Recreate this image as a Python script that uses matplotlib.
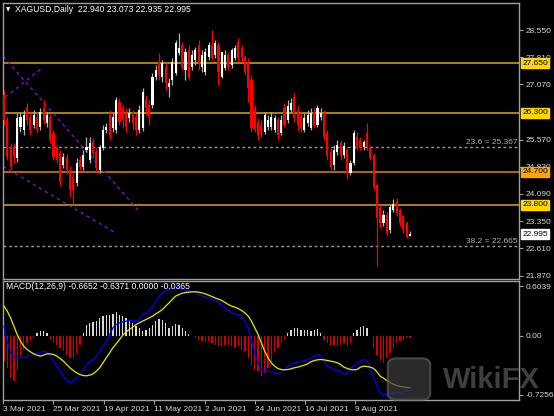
import numpy as np
import matplotlib
matplotlib.use('Agg')
import matplotlib.pyplot as plt
from matplotlib.transforms import blended_transform_factory
from matplotlib.patches import FancyBboxPatch

plt.rcParams['font.family'] = ['Liberation Sans', 'DejaVu Sans']

# Daily XAGUSD candles
opens = [26.78, 26.10, 25.36, 25.36, 25.06, 25.91, 25.82, 26.45, 26.18, 25.96,
         26.18, 25.91, 26.42, 26.01, 26.18, 25.74, 25.36, 25.20, 24.87, 25.09,
         24.73, 24.54, 24.38, 25.01, 24.82, 25.28, 25.01, 25.50, 25.22, 24.73,
         25.33, 25.82, 26.23, 25.88, 25.82, 26.59, 26.42, 26.29, 26.15, 26.29,
         26.18, 25.82, 25.88, 26.64, 26.51, 26.51, 27.27, 27.68, 27.27, 27.54,
         27.00, 27.19, 27.38, 27.92, 28.14, 27.46, 28.00, 27.54, 27.73, 28.14,
         27.54, 27.40, 27.81, 28.14, 27.87, 28.14, 27.27, 27.51, 27.87, 27.60,
         27.79, 28.22, 28.06, 27.81, 27.68, 27.19, 26.42, 26.04, 25.96, 25.77,
         25.91, 25.91, 25.82, 26.10, 25.74, 26.42, 26.10, 26.37, 26.72, 26.37,
         26.23, 25.82, 26.01, 25.88, 26.31, 25.96, 26.18, 26.29, 25.74, 25.22,
         24.87, 25.22, 25.47, 25.14, 25.28, 24.65, 24.92, 25.63, 25.55, 25.36,
         25.74, 25.36, 25.14, 24.33, 23.70, 23.29, 23.51, 23.10, 23.64, 23.89,
         23.64, 23.48, 23.29, 22.940]
highs = [26.91, 26.18, 25.47, 25.47, 26.29, 26.31, 26.37, 26.56, 26.31, 26.37,
         26.31, 26.42, 26.64, 26.31, 26.26, 25.82, 25.42, 25.28, 25.20, 25.17,
         24.84, 24.68, 25.06, 25.12, 25.28, 25.63, 25.63, 25.61, 25.33, 25.42,
         25.96, 26.02, 26.37, 26.29, 26.72, 26.70, 26.51, 26.42, 26.42, 26.37,
         26.29, 26.51, 26.97, 26.78, 26.64, 27.38, 27.60, 27.92, 27.73, 27.65,
         27.24, 27.79, 28.28, 28.47, 28.22, 28.06, 28.14, 28.00, 28.09, 28.28,
         28.00, 28.06, 28.22, 28.55, 28.28, 28.22, 27.95, 28.00, 27.95, 28.06,
         28.14, 28.33, 28.14, 27.87, 27.79, 27.32, 26.51, 26.15, 26.10, 26.31,
         26.23, 26.31, 26.23, 26.18, 26.23, 26.56, 26.64, 26.70, 26.83, 26.51,
         26.31, 26.29, 26.37, 26.42, 26.42, 26.51, 26.42, 26.37, 25.82, 25.33,
         25.42, 25.55, 25.55, 25.50, 25.36, 25.01, 25.82, 25.77, 25.63, 25.55,
         26.01, 25.42, 25.20, 24.38, 23.78, 23.64, 23.59, 23.78, 23.94, 23.97,
         23.70, 23.53, 23.34, 23.073]
lows = [25.96, 25.01, 24.73, 24.92, 24.95, 25.77, 25.69, 25.96, 25.69, 25.88,
        25.74, 25.82, 25.99, 25.91, 25.47, 25.01, 24.92, 24.33, 24.79, 24.62,
        24.00, 23.78, 24.30, 24.73, 24.73, 25.22, 24.92, 25.06, 24.68, 24.65,
        25.28, 25.74, 25.55, 25.77, 25.74, 25.96, 25.88, 25.77, 26.04, 25.82,
        25.69, 25.74, 25.80, 26.23, 25.96, 26.42, 27.19, 27.19, 27.13, 26.91,
        26.72, 27.05, 27.32, 27.87, 27.46, 27.19, 27.19, 27.46, 27.60, 27.46,
        27.40, 27.32, 27.73, 27.73, 27.79, 27.05, 27.24, 27.46, 27.46, 27.51,
        27.73, 27.68, 27.68, 27.32, 26.59, 25.77, 25.77, 25.55, 25.63, 25.71,
        25.82, 25.82, 25.77, 25.55, 25.69, 25.91, 26.01, 26.31, 26.04, 25.82,
        25.77, 25.77, 25.93, 25.82, 25.88, 25.91, 26.10, 25.55, 25.01, 24.73,
        24.73, 25.14, 25.01, 25.06, 24.49, 24.60, 24.87, 25.28, 25.28, 25.28,
        25.28, 25.01, 24.19, 22.14, 23.15, 23.21, 22.96, 23.04, 23.59, 23.48,
        23.21, 23.02, 22.88, 22.935]
closes = [26.10, 25.09, 24.82, 25.09, 26.15, 26.18, 26.23, 26.10, 25.82, 26.23,
          25.82, 26.31, 26.10, 26.23, 25.55, 25.09, 25.01, 24.41, 25.09, 24.73,
          24.19, 24.19, 24.92, 24.82, 25.14, 25.36, 25.47, 25.20, 24.79, 25.36,
          25.82, 25.91, 25.69, 26.18, 26.64, 26.04, 26.10, 25.91, 26.29, 26.01,
          25.82, 26.37, 26.86, 26.42, 26.18, 27.27, 27.46, 27.32, 27.65, 27.11,
          27.11, 27.68, 28.20, 28.06, 27.54, 27.95, 27.24, 27.87, 28.00, 27.65,
          27.87, 27.95, 28.14, 27.79, 28.20, 27.40, 27.95, 27.87, 27.54, 28.00,
          28.06, 27.79, 27.81, 27.40, 26.97, 25.88, 25.82, 25.69, 25.74, 26.23,
          26.10, 26.18, 26.15, 25.69, 26.10, 25.96, 26.48, 26.56, 26.15, 25.96,
          25.88, 26.15, 26.23, 26.29, 25.96, 26.42, 26.29, 25.63, 25.14, 24.82,
          25.28, 25.42, 25.14, 25.39, 24.65, 24.92, 25.74, 25.36, 25.33, 25.50,
          25.36, 25.06, 24.27, 23.43, 23.29, 23.51, 23.02, 23.73, 23.81, 23.56,
          23.29, 23.10, 22.93, 22.995]

# MACD(12,26,9)
macd = [0.114, -0.069, -0.211, -0.272, -0.280, -0.264, -0.272, -0.252, -0.240, -0.240,
        -0.211, -0.211, -0.191, -0.211, -0.252, -0.313, -0.374, -0.435, -0.496, -0.549,
        -0.577, -0.549, -0.516, -0.476, -0.415, -0.354, -0.313, -0.293, -0.252, -0.191,
        -0.130, -0.069, 0.012, 0.093, 0.134, 0.154, 0.167, 0.175, 0.183, 0.183,
        0.175, 0.195, 0.256, 0.276, 0.297, 0.358, 0.419, 0.480, 0.520, 0.549,
        0.561, 0.581, 0.6039, 0.590, 0.561, 0.549, 0.541, 0.533, 0.520, 0.500,
        0.480, 0.468, 0.459, 0.451, 0.439, 0.398, 0.370, 0.337, 0.305, 0.276,
        0.264, 0.256, 0.236, 0.175, 0.093, -0.069, -0.211, -0.333, -0.415, -0.435,
        -0.435, -0.443, -0.455, -0.467, -0.447, -0.415, -0.374, -0.346, -0.333, -0.321,
        -0.313, -0.305, -0.293, -0.280, -0.252, -0.232, -0.252, -0.313, -0.374, -0.394,
        -0.415, -0.427, -0.435, -0.476, -0.455, -0.394, -0.374, -0.333, -0.313, -0.293,
        -0.313, -0.394, -0.516, -0.618, -0.699, -0.7256, -0.720, -0.710, -0.700, -0.700,
        -0.700, -0.690, -0.680, -0.6652]
signal = [0.358, 0.297, 0.215, 0.114, 0.012, -0.069, -0.130, -0.171, -0.199, -0.224,
          -0.240, -0.252, -0.240, -0.224, -0.224, -0.232, -0.252, -0.280, -0.313, -0.354,
          -0.394, -0.427, -0.455, -0.476, -0.488, -0.492, -0.484, -0.467, -0.435, -0.394,
          -0.333, -0.272, -0.211, -0.150, -0.102, -0.049, 0.004, 0.045, 0.073, 0.102,
          0.134, 0.154, 0.175, 0.195, 0.215, 0.236, 0.264, 0.289, 0.317, 0.358,
          0.398, 0.439, 0.480, 0.500, 0.516, 0.524, 0.529, 0.533, 0.533, 0.529,
          0.520, 0.508, 0.492, 0.476, 0.459, 0.443, 0.427, 0.402, 0.378, 0.358,
          0.346, 0.329, 0.305, 0.276, 0.236, 0.175, 0.093, 0.012, -0.089, -0.191,
          -0.272, -0.333, -0.374, -0.402, -0.415, -0.419, -0.415, -0.406, -0.394, -0.386,
          -0.374, -0.362, -0.346, -0.321, -0.305, -0.297, -0.293, -0.297, -0.305, -0.313,
          -0.321, -0.333, -0.354, -0.386, -0.402, -0.415, -0.419, -0.415, -0.386, -0.374,
          -0.378, -0.386, -0.402, -0.443, -0.496, -0.520, -0.550, -0.575, -0.595, -0.610,
          -0.620, -0.628, -0.633, -0.6371]
hist = [-0.313, -0.394, -0.516, -0.557, -0.415, -0.252, -0.171, -0.089, -0.061, -0.028,
        0.033, 0.053, 0.061, 0.028, -0.049, -0.089, -0.110, -0.150, -0.191, -0.232,
        -0.272, -0.280, -0.211, -0.110, 0.033, 0.134, 0.154, 0.167, 0.183, 0.215,
        0.244, 0.256, 0.256, 0.264, 0.289, 0.256, 0.236, 0.215, 0.195, 0.154,
        0.114, 0.093, 0.061, 0.073, 0.093, 0.134, 0.175, 0.207, 0.195, 0.154,
        0.093, 0.114, 0.142, 0.134, 0.093, 0.053, 0.020, 0.0, -0.028, -0.049,
        -0.069, -0.077, -0.069, -0.089, -0.110, -0.130, -0.130, -0.110, -0.110, -0.130,
        -0.150, -0.130, -0.171, -0.191, -0.272, -0.354, -0.415, -0.435, -0.496, -0.455,
        -0.394, -0.313, -0.211, -0.150, -0.089, -0.049, 0.033, 0.073, 0.093, 0.093,
        0.073, 0.073, 0.065, 0.061, 0.065, 0.081, 0.033, -0.049, -0.089, -0.110,
        -0.110, -0.130, -0.110, -0.089, -0.130, -0.089, 0.033, 0.073, 0.102, 0.114,
        0.093, 0.0, -0.150, -0.232, -0.293, -0.333, -0.272, -0.211, -0.150, -0.089,
        -0.069, -0.049, -0.028, -0.0365]

# horizontal levels and their label colours
levels = [27.650, 26.300, 24.700, 23.800]
level_labels = ['27.650', '26.300', '24.700', '23.800']
level_kind = ['y', 'y', 'o', 'y']
fib_levels = [25.367, 22.665]
fib_labels = ['23.6 = 25.367', '38.2 = 22.665']
last_price = 22.995

# trend lines drawn on the chart: (bar0, price0, bar1, price1)
trend_lines = [(-0.3, 27.84, 41.2, 23.59),
               (-0.3, 24.84, 33.6, 23.04),
               (0.3, 26.72, 11.5, 27.51)]

price_ticks = [28.550, 27.810, 27.070, 25.570, 24.830, 24.090, 23.350, 22.610, 21.870]
macd_ticks = [0.6039, 0.0, -0.7256]
macd_tick_labels = ['0.6039', '0.00', '-0.7256']
date_pos = [-0.3, 14.85, 30.3, 45.45, 60.9, 76.1, 91.2, 106.4]
date_labels = ['3 Mar 2021', '25 Mar 2021', '19 Apr 2021', '11 May 2021',
               '2 Jun 2021', '24 Jun 2021', '16 Jul 2021', '9 Aug 2021']

o = np.array(opens); h = np.array(highs); l = np.array(lows); c = np.array(closes)
x = np.arange(len(c))
up = c >= o

fig = plt.figure(figsize=(5.54, 4.16), dpi=100, facecolor='black')
ax1 = fig.add_axes([3/554, 1 - 279/416, 516/554, 276/416], facecolor='black')
ax2 = fig.add_axes([3/554, 1 - 400/416, 516/554, 119/416], facecolor='black')

grey = '#a0a0a0'
txt = '#d8d8d8'
for ax in (ax1, ax2):
    for s in ax.spines.values():
        s.set_color(grey)
        s.set_linewidth(1)
    ax.set_xlim(-0.3, 156.06)
    ax.yaxis.tick_right()
    ax.tick_params(axis='y', colors=grey, labelcolor=txt, labelsize=6, length=3, pad=2, width=0.8)

# levels
for lv, kind in zip(levels, level_kind):
    ax1.axhline(lv, color='#b8900a' if kind == 'y' else '#b87410', lw=1.3, zorder=1)
for fl in fib_levels:
    ax1.axhline(fl, color='#9a9a9a', lw=1, ls=(0, (2, 2)), zorder=1)

for x0, y0, x1, y1 in trend_lines:
    ax1.plot([x0, x1], [y0, y1], color='#7a10c8', lw=1, ls=(0, (2.5, 2.5)), zorder=1)

# candles
ax1.vlines(x[up], l[up], h[up], color='#b0b0b0', lw=0.9, zorder=2)
ax1.vlines(x[~up], l[~up], h[~up], color='#ff0000', lw=0.9, zorder=2)
body = np.maximum(np.abs(c - o), 0.02)
ax1.bar(x, body, bottom=np.minimum(o, c), width=0.62,
        color=np.where(up, '#ffffff', '#ff0000'), linewidth=0, zorder=3)

ax1.set_ylim(21.775, 29.286)
ax1.set_yticks(price_ticks)
ax1.set_yticklabels(['%.3f' % t for t in price_ticks])
ax1.set_xticks([])

tr = blended_transform_factory(ax1.transAxes, ax1.transData)
for lv, lab, kind in zip(levels, level_labels, level_kind):
    fc = '#ffd700' if kind == 'y' else '#ffa500'
    ax1.text(1.006, lv, lab, transform=tr, ha='left', va='center', fontsize=6,
             color='black', clip_on=False, zorder=10,
             bbox=dict(boxstyle='square,pad=0.18', fc=fc, ec=fc))
ax1.text(1.006, last_price, '%.3f' % last_price, transform=tr, ha='left', va='center',
         fontsize=6, color='black', clip_on=False, zorder=10,
         bbox=dict(boxstyle='square,pad=0.18', fc='white', ec='white'))
for fl, lab in zip(fib_levels, fib_labels):
    ax1.text(0.997, fl + 0.03, lab, transform=tr, ha='right', va='bottom',
             fontsize=6, color='#b0b0b0', zorder=5)

ax1.text(0.006, 0.975, '\u25bc', transform=ax1.transAxes, fontsize=4, color='white',
         va='center', ha='left', family=['DejaVu Sans'])
ax1.text(0.024, 0.975, 'XAGUSD,Daily  22.940 23.073 22.935 22.995',
         transform=ax1.transAxes, fontsize=6.2, color='white', va='center', ha='left')

# MACD panel
ax2.bar(x, hist, width=0.38, color=np.where(np.array(hist) >= 0, '#d8d8d8', '#d00000'),
        linewidth=0, zorder=2)
ax2.plot(x, macd, color='#0000ff', lw=0.9, zorder=3)
ax2.plot(x, signal, color='#e8e800', lw=0.9, zorder=4)
ax2.set_ylim(-0.787, 0.665)
ax2.set_yticks(macd_ticks)
ax2.set_yticklabels(macd_tick_labels)
ax2.set_xticks(date_pos)
ax2.set_xticklabels(date_labels)
ax2.tick_params(axis='x', colors=grey, labelcolor=txt, labelsize=6, length=3, pad=1, width=0.8)
for t in ax2.get_xticklabels():
    t.set_ha('left')
ax2.text(0.006, 0.955, 'MACD(12,26,9) -0.6652 -0.6371 0.0000 -0.0365',
         transform=ax2.transAxes, fontsize=6.2, color='white', va='center', ha='left')

# watermark
fig.patches.append(FancyBboxPatch((390/554, 1 - 398/416), 38/554, 38/416,
                                  boxstyle='round,pad=0.004,rounding_size=0.015',
                                  transform=fig.transFigure, fc='#3c3c3c', ec='#5a5a5a',
                                  lw=1.5, alpha=0.7, zorder=20))
fig.text(443/554, 1 - 380/416, 'WikiFX', fontsize=21, fontweight='bold',
         color='#6a6a6a', alpha=0.6, va='center', ha='left', zorder=20)

fig.savefig('out.png', dpi=100, facecolor='black')
